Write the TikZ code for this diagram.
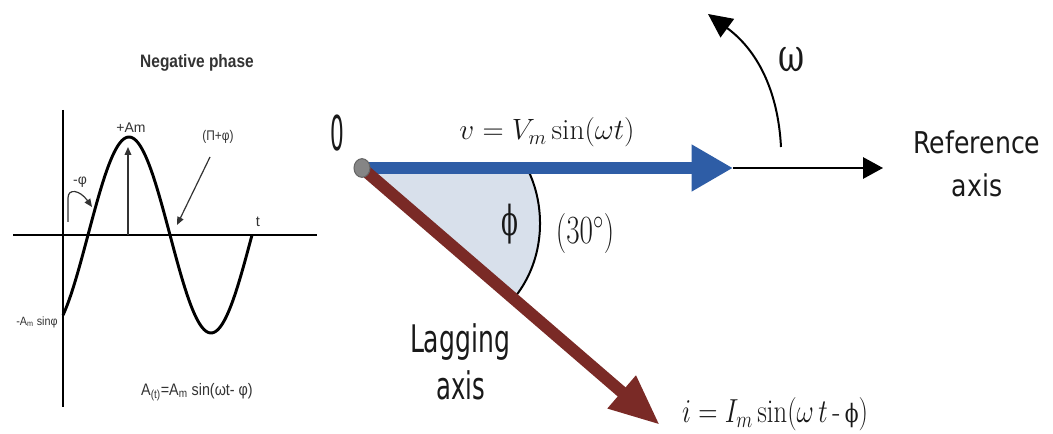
\RequirePackage{fix-cm}
\documentclass[tikz,border=0pt]{standalone}
\usepackage{fontspec}
\usetikzlibrary{arrows.meta,shapes.geometric}
\newfontfamily\dvs{DejaVu Sans}
\newfontfamily\dvserif{DejaVu Serif}
\newfontfamily\libsans{Liberation Sans}
\definecolor{vblue}{HTML}{2E5DA6}
\definecolor{ibrown}{HTML}{7A2A26}
\definecolor{sector}{HTML}{D8E0EB}
\definecolor{dotgray}{HTML}{858585}
\newcommand{\fsz}[1]{\fontsize{#1}{#1}\selectfont}
\newcommand{\hsq}[2]{\scalebox{#1}[1]{#2}}
\begin{document}
\begin{tikzpicture}[x=0.75pt,y=-0.75pt,
  lbl/.style={inner sep=0pt, text=black!90},
  ltxt/.style={inner sep=0pt, text=black!80, font=\libsans},
  thinarr/.style={line width=0.9pt, draw=black!80, -{Triangle[length=6pt,width=5pt]}},
]
\useasboundingbox (0,0) rectangle (1053,434);
% ---------------- left panel
\coordinate (vtop) at (63,110);
\coordinate (vbot) at (63,407);
\coordinate (hl) at (13,235);
\coordinate (hr) at (317,235);
\draw[line width=1.8pt] (vtop) -- (vbot);
\draw[line width=1.8pt] (hl) -- (hr);
\draw[line width=2.2pt, line join=round] plot[domain=63:252, samples=120, smooth] (\x,{235-98*sin((\x-88)*2.19512)});
\node[ltxt, anchor=base] (title) at (197,68) {\fsz{13.5}\hsq{0.86}{\bfseries Negative phase}};
\node[ltxt] (amp) at (131,128) {\fsz{10.5}+Am};
\coordinate (peakbase) at (128,235);
\coordinate (peaktop) at (128,147);
\draw[thinarr] (peakbase) -- (peaktop);
\node[ltxt] (piphi) at (218,137) {\fsz{10.5}\hsq{0.85}{(Π+φ)}};
\coordinate (pistart) at (210,157);
\coordinate (zc) at (177,225);
\draw[thinarr] (pistart) -- (zc);
\node[ltxt] (mphi) at (80,182) {\fsz{10.5}-φ};
\coordinate (ms) at (68,222);
\coordinate (me) at (92,207);
\draw[thinarr] (ms) -- (68,198) .. controls (68,188) and (80,190) .. (me);
\node[ltxt] (tlab) at (258,222) {\fsz{11}t};
\node[ltxt] (mAm) at (37,322) {\fsz{9}\hsq{0.9}{-A\textsubscript{m} sinφ}};
\node[ltxt] (formula) at (197,392) {\fsz{12.5}\hsq{0.86}{A\textsubscript{(t)}=A\textsubscript{m} sin(ωt- φ)}};
% ---------------- right panel
\coordinate (oc) at (362,168);
\coordinate (vtip) at (733,168);
\coordinate (reftip) at (883,168);
\coordinate (itip) at (660,425);
\coordinate (ws) at (781,147);
\coordinate (we) at (708,14);
\coordinate (sa) at (527,168);
\coordinate (sb) at (515,297);
\fill[sector] (oc) -- (sa) .. controls (546,205) and (546,258) .. (sb) -- cycle;
\draw[line width=1.5pt] (sa) .. controls (546,205) and (546,258) .. (sb);
\draw[line width=1.5pt, -{Triangle[length=15pt,width=16pt]}] (vtip) -- (reftip);
\draw[line width=9pt, vblue, -{Triangle[length=31pt,width=33pt]}] (oc) -- (vtip);
\draw[line width=9pt, ibrown, -{Triangle[length=38pt,width=30pt]}] (oc) -- (itip);
\draw[line width=1.5pt, -{Triangle[length=18pt,width=17pt]}] (ws) .. controls (778,90) and (757,50) .. (we);
\node[ellipse, draw=black!60, fill=dotgray, line width=0.8pt, minimum width=12pt, minimum height=14pt, inner sep=0pt] (o) at (oc) {};
\node[lbl, font=\dvs] (zero) at (337,133) {\fsz{36}\hsq{0.45}{0}};
\node[lbl, anchor=base] (veq) at (547,140) {\fsz{22}$v = V_m \sin(\omega t)$};
\node[lbl, font=\dvserif] (phil) at (510,224) {\fsz{31}\hsq{0.6}{ϕ}};
\node[lbl] (deg) at (585,234) {\fsz{30}\hsq{0.73}{$(30^{\circ})$}};
\node[lbl, font=\dvserif] (om) at (792,60) {\fsz{24}\scalebox{1}[1.45]{ω}};
\node[lbl, font=\dvs, anchor=base] (ref1) at (977,154) {\fsz{22.5}\hsq{0.84}{Reference}};
\node[lbl, font=\dvs, anchor=base] (ref2) at (977,197) {\fsz{22.5}\hsq{0.84}{axis}};
\node[lbl, font=\dvs, anchor=base] (lag1) at (460,353) {\fsz{28.5}\hsq{0.66}{Lagging}};
\node[lbl, font=\dvs, anchor=base] (lag2) at (461,400) {\fsz{28.5}\hsq{0.64}{axis}};
\node[lbl, anchor=base] (ieq) at (775,422) {\fsz{25}\hsq{0.8}{$i = I_m \sin(\omega\, t$\,-\,{\dvserif\fsz{19}ϕ}$)$}};
\end{tikzpicture}
\end{document}
